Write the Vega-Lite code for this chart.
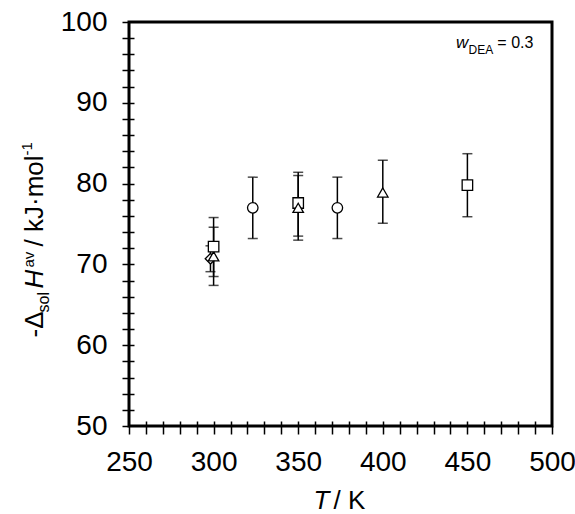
{
  "$schema": "https://vega.github.io/schema/vega-lite/v6.json",
  "width": 423,
  "height": 404,
  "autosize": {"type": "none"},
  "padding": {"left": 129, "top": 22, "right": 23, "bottom": 88},
  "background": "white",
  "config": {
    "font": "Liberation Sans",
    "view": {"stroke": "black", "strokeWidth": 3},
    "text": {"font": "Liberation Sans", "color": "black"}
  },
  "datasets": {
    "enthalpy": [
      {"kind": "diamond", "T": 298.15, "H": 70.7, "lo": 69.1, "hi": 72.3},
      {"kind": "triangle", "T": 300, "H": 71.0, "lo": 67.4, "hi": 74.6},
      {"kind": "square", "T": 300, "H": 72.2, "lo": 68.5, "hi": 75.8},
      {"kind": "circle", "T": 323.15, "H": 77.0, "lo": 73.2, "hi": 80.8},
      {"kind": "square", "T": 350, "H": 77.6, "lo": 73.5, "hi": 81.4},
      {"kind": "triangle", "T": 350, "H": 77.0, "lo": 73.0, "hi": 81.0},
      {"kind": "circle", "T": 373.15, "H": 77.0, "lo": 73.2, "hi": 80.8},
      {"kind": "triangle", "T": 400, "H": 78.9, "lo": 75.1, "hi": 82.9},
      {"kind": "square", "T": 450, "H": 79.8, "lo": 75.9, "hi": 83.7}
    ]
  },
  "resolve": {"axis": {"x": "independent", "y": "independent"}},
  "layer": [
    {
      "data": {"name": "enthalpy"},
      "mark": {"type": "rule", "color": "black", "strokeWidth": 1.5},
      "encoding": {
        "x": {
          "field": "T", "type": "quantitative",
          "scale": {"domain": [250, 500], "nice": false, "zero": false},
          "axis": {
            "orient": "bottom", "title": null, "domain": false, "grid": false,
            "values": [250, 260, 270, 280, 290, 300, 310, 320, 330, 340, 350, 360, 370, 380, 390, 400, 410, 420, 430, 440, 450, 460, 470, 480, 490, 500],
            "labelExpr": "datum.value % 50 === 0 ? datum.label : ''",
            "tickSize": 8, "tickWidth": 1.5, "tickColor": "black",
            "labelFontSize": 28, "labelColor": "black", "labelPadding": 14,
            "labelFont": "Liberation Sans", "labelFlush": false, "labelOverlap": false
          }
        },
        "y": {
          "field": "lo", "type": "quantitative",
          "scale": {"domain": [50, 100], "nice": false, "zero": false},
          "axis": {
            "orient": "left", "title": null, "domain": false, "grid": false,
            "values": [50, 52, 54, 56, 58, 60, 62, 64, 66, 68, 70, 72, 74, 76, 78, 80, 82, 84, 86, 88, 90, 92, 94, 96, 98, 100],
            "labelExpr": "datum.value % 10 === 0 ? datum.label : ''",
            "tickSize": 7, "tickWidth": 1.5, "tickColor": "black",
            "labelFontSize": 28, "labelColor": "black", "labelPadding": 15,
            "labelFont": "Liberation Sans", "labelFlush": false, "labelOverlap": false
          }
        },
        "y2": {"field": "hi"}
      }
    },
    {
      "data": {"name": "enthalpy"},
      "mark": {"type": "tick", "orient": "horizontal", "color": "black", "size": 10, "thickness": 1.5},
      "encoding": {
        "x": {
          "field": "T", "type": "quantitative",
          "axis": {
            "orient": "bottom", "offset": -5, "title": null, "domain": false, "grid": false,
            "labels": false, "tickSize": 5, "tickWidth": 1.5, "tickColor": "black",
            "values": [260, 270, 280, 290, 300, 310, 320, 330, 340, 350, 360, 370, 380, 390, 400, 410, 420, 430, 440, 450, 460, 470, 480, 490]
          }
        },
        "y": {
          "field": "lo", "type": "quantitative",
          "axis": {
            "orient": "left", "offset": -5, "title": null, "domain": false, "grid": false,
            "labels": false, "tickSize": 5, "tickWidth": 1.5, "tickColor": "black",
            "values": [52, 54, 56, 58, 60, 62, 64, 66, 68, 70, 72, 74, 76, 78, 80, 82, 84, 86, 88, 90, 92, 94, 96, 98]
          }
        }
      }
    },
    {
      "data": {"name": "enthalpy"},
      "mark": {"type": "tick", "orient": "horizontal", "color": "black", "size": 10, "thickness": 1.5},
      "encoding": {
        "x": {"field": "T", "type": "quantitative", "axis": null},
        "y": {"field": "hi", "type": "quantitative", "axis": null}
      }
    },
    {
      "data": {"name": "enthalpy"},
      "mark": {"type": "point", "filled": true, "fill": "white", "stroke": "black", "strokeWidth": 1.3, "size": 110, "opacity": 1},
      "encoding": {
        "x": {"field": "T", "type": "quantitative", "axis": null},
        "y": {"field": "H", "type": "quantitative", "axis": null},
        "shape": {
          "field": "kind", "type": "nominal", "legend": null,
          "scale": {"domain": ["diamond", "triangle", "square", "circle"], "range": ["diamond", "triangle-up", "square", "circle"]}
        }
      }
    },
    {
      "data": {"values": [{}]},
      "mark": {"type": "text", "text": "w", "fontStyle": "italic", "fontSize": 17, "align": "left", "baseline": "alphabetic"},
      "encoding": {"x": {"datum": 443.3, "type": "quantitative", "axis": null}, "y": {"datum": 96.8, "type": "quantitative", "axis": null}}
    },
    {
      "data": {"values": [{}]},
      "mark": {"type": "text", "text": "DEA", "fontSize": 12, "align": "left", "baseline": "alphabetic"},
      "encoding": {"x": {"datum": 450.7, "type": "quantitative", "axis": null}, "y": {"datum": 96.05, "type": "quantitative", "axis": null}}
    },
    {
      "data": {"values": [{}]},
      "mark": {"type": "text", "text": "= 0.3", "fontSize": 16, "align": "right", "baseline": "alphabetic"},
      "encoding": {"x": {"datum": 489.0, "type": "quantitative", "axis": null}, "y": {"datum": 96.8, "type": "quantitative", "axis": null}}
    },
    {
      "data": {"values": [{}]},
      "mark": {"type": "text", "text": "T", "fontStyle": "italic", "fontSize": 26, "align": "right", "baseline": "alphabetic", "dy": 83},
      "encoding": {"x": {"datum": 368.5, "type": "quantitative", "axis": null}, "y": {"datum": 50, "type": "quantitative", "axis": null}}
    },
    {
      "data": {"values": [{}]},
      "mark": {"type": "text", "text": "/ K", "fontSize": 26, "align": "left", "baseline": "alphabetic", "dy": 83, "dx": 4},
      "encoding": {"x": {"datum": 368.5, "type": "quantitative", "axis": null}, "y": {"datum": 50, "type": "quantitative", "axis": null}}
    },
    {
      "data": {"values": [{}]},
      "mark": {"type": "text", "text": "-Δ", "fontSize": 26, "angle": 270, "align": "left", "baseline": "alphabetic"},
      "encoding": {"x": {"datum": 199.2, "type": "quantitative", "axis": null}, "y": {"datum": 60.95, "type": "quantitative", "axis": null}}
    },
    {
      "data": {"values": [{}]},
      "mark": {"type": "text", "text": "sol", "fontSize": 16, "angle": 270, "align": "left", "baseline": "alphabetic"},
      "encoding": {"x": {"datum": 202.7, "type": "quantitative", "axis": null}, "y": {"datum": 64.05, "type": "quantitative", "axis": null}}
    },
    {
      "data": {"values": [{}]},
      "mark": {"type": "text", "text": "H", "fontSize": 26, "fontStyle": "italic", "angle": 270, "align": "left", "baseline": "alphabetic"},
      "encoding": {"x": {"datum": 199.2, "type": "quantitative", "axis": null}, "y": {"datum": 67.02, "type": "quantitative", "axis": null}}
    },
    {
      "data": {"values": [{}]},
      "mark": {"type": "text", "text": "av", "fontSize": 15, "angle": 270, "align": "left", "baseline": "alphabetic"},
      "encoding": {"x": {"datum": 193.6, "type": "quantitative", "axis": null}, "y": {"datum": 69.62, "type": "quantitative", "axis": null}}
    },
    {
      "data": {"values": [{}]},
      "mark": {"type": "text", "text": "/ kJ·mol", "fontSize": 26, "angle": 270, "align": "left", "baseline": "alphabetic"},
      "encoding": {"x": {"datum": 199.2, "type": "quantitative", "axis": null}, "y": {"datum": 72.22, "type": "quantitative", "axis": null}}
    },
    {
      "data": {"values": [{}]},
      "mark": {"type": "text", "text": "-1", "fontSize": 15, "angle": 270, "align": "left", "baseline": "alphabetic"},
      "encoding": {"x": {"datum": 192.4, "type": "quantitative", "axis": null}, "y": {"datum": 83.48, "type": "quantitative", "axis": null}}
    }
  ]
}
